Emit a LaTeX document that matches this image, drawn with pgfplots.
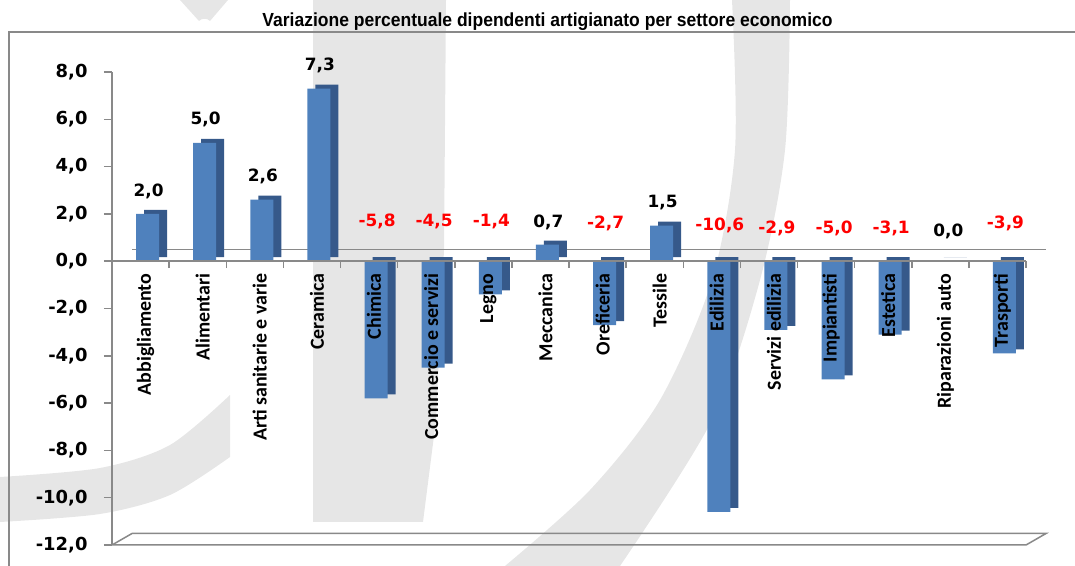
\documentclass[border=0pt]{standalone}
\usepackage{pgfplots}
\pgfplotsset{compat=1.18}
\usepackage{fontspec}
\setmainfont{Carlito}
\newfontfamily\djv{DejaVu Sans}
\newfontfamily\ttl[FakeStretch=0.925]{Liberation Sans}
\definecolor{bblue}{RGB}{79,129,189}
\definecolor{bdark}{RGB}{54,89,138}
\definecolor{axgray}{RGB}{137,137,137}
\definecolor{wm}{RGB}{230,230,230}
\begin{document}
\begin{tikzpicture}[x=1bp,y=1bp]
\useasboundingbox (0,0) rectangle (1075,566);
% watermark (pixel coordinates, y downwards)
\begin{scope}[shift={(0,566)},yscale=-1]
\fill[wm] (313,0) -- (446,0) -- (444,250) -- (436,420) -- (423,522) -- (313,522) -- cycle;
\fill[wm] (180,0) -- (228,0) -- (210,21) to[out=225,in=-45] (199,21) -- cycle;
\fill[wm] plot[smooth] coordinates {(790,0) (785,150) (760,280) (712,420) (620,566)}
  -- (505,566) -- plot[smooth] coordinates {(505,566) (590,490) (660,400) (712,280) (735,150) (732,0)} -- cycle;
\fill[wm] plot[smooth] coordinates {(0,477) (100,468) (170,445) (230,395)}
  -- (230,457) -- plot[smooth] coordinates {(230,457) (170,495) (100,514) (0,522)} -- cycle;
\end{scope}
% chart frame
\draw[axgray,line width=1.4bp] (9,-20) -- (9,534) -- (1100,534);
% title
\node[anchor=base,inner sep=0pt,font=\ttl\bfseries\fontsize{19}{19}\selectfont] at (547.5,539)
  {Variazione percentuale dipendenti artigianato per settore economico};
\begin{axis}[
  at={(112bp,21bp)}, anchor=south west,
  scale only axis, width=914bp, height=473bp,
  xmin=-0.5, xmax=15.5, ymin=-12, ymax=8,
  axis x line*=middle, axis y line*=left,
  hide obscured x ticks=false, hide obscured y ticks=false,
  axis on top, clip=false,
  axis line style={draw=axgray,line width=1.5bp},
  every tick/.style={draw=axgray,line width=1.5bp},
  tick align=outside,
  major tick length=8bp, minor tick length=7bp,
  ytick={-12,-10,...,8},
  xtick={0,...,15},
  minor xtick={-0.5,0.5,...,15.5},
  major x tick style={draw=none},
  xticklabels={Abbigliamento,Alimentari,Arti sanitarie e varie,Ceramica,Chimica,Commercio e servizi,Legno,Meccanica,Oreficeria,Tessile,Edilizia,Servizi edilizia,Impiantisti,Estetica,Riparazioni auto,Trasporti},
  xticklabel style={rotate=90,anchor=east,font=\bfseries\fontsize{20}{20}\selectfont,yshift=-5bp,xshift=-1bp},
  yticklabel style={font=\djv\bfseries\fontsize{18}{18}\selectfont,xshift=-13bp},
  /pgf/number format/.cd, fixed, fixed zerofill, precision=1, use comma, assume math mode=true,
]
% back zero line and floor
\draw[axgray,line width=1.5bp] ([shift={(20bp,11.5bp)}]axis cs:-0.5,0) -- ([shift={(20bp,11.5bp)}]axis cs:15.5,0);
\draw[axgray,line width=1.5bp] (axis cs:-0.5,-12) -- ([shift={(20bp,11.5bp)}]axis cs:-0.5,-12)
  -- ([shift={(20bp,11.5bp)}]axis cs:15.5,-12) -- (axis cs:15.5,-12) -- cycle;
% bars: depth then front
\addplot[ybar, bar width=23bp, bar shift=7bp, fill=bdark, draw=none, xshift=8bp, yshift=4bp] table {
x y
0 2.0
1 5.0
2 2.6
3 7.3
4 -5.8
5 -4.5
6 -1.4
7 0.7
8 -2.7
9 1.5
10 -10.6
11 -2.9
12 -5.0
13 -3.1
14 0.0
15 -3.9
};
\addplot[ybar, bar width=23bp, bar shift=7bp, fill=bblue, draw=none] table {
x y
0 2.0
1 5.0
2 2.6
3 7.3
4 -5.8
5 -4.5
6 -1.4
7 0.7
8 -2.7
9 1.5
10 -10.6
11 -2.9
12 -5.0
13 -3.1
14 0.0
15 -3.9
};
% value labels
\addplot[draw=none, mark=none, nodes near coords, point meta=explicit symbolic,
  every node near coord/.style={anchor=center, xshift=8bp, text=black, font=\djv\bfseries\fontsize{17}{17}\selectfont}]
  table[meta=lab] {
x y lab
0 2.96 2,0
1 5.99 5,0
2 3.59 2,6
3 8.29 7,3
7 1.66 0,7
9 2.47 1,5
14 1.24 0,0
};
\addplot[draw=none, mark=none, nodes near coords, point meta=explicit symbolic,
  every node near coord/.style={anchor=center, xshift=8bp, text=red, font=\djv\bfseries\fontsize{17}{17}\selectfont}]
  table[meta=lab] {
x y lab
4 1.69 -5,8
5 1.69 -4,5
6 1.69 -1,4
8 1.59 -2,7
10 1.52 -10,6
11 1.38 -2,9
12 1.40 -5,0
13 1.40 -3,1
15 1.59 -3,9
};
\end{axis}
\end{tikzpicture}
\end{document}
